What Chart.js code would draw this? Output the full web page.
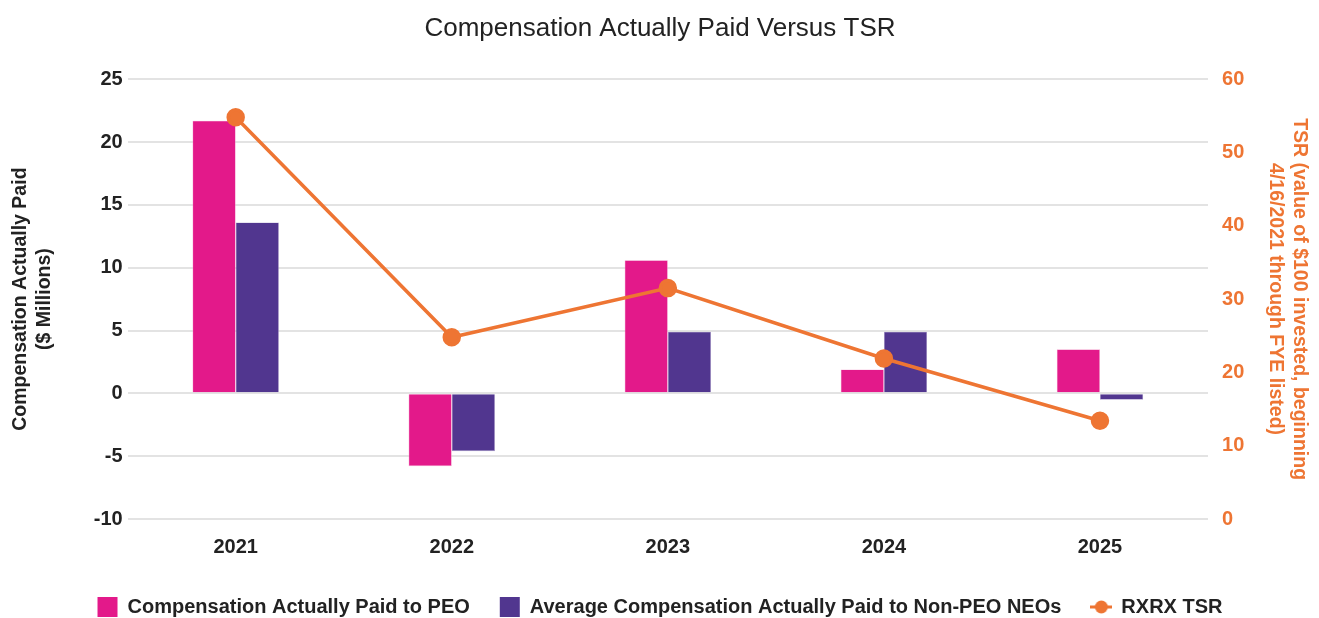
<!DOCTYPE html>
<html>
<head>
<meta charset="utf-8">
<script src="https://cdn.jsdelivr.net/npm/chart.js@4/dist/chart.umd.min.js"></script>
<style>
  html, body { margin: 0; padding: 0; background: #fff; }
  #wrap { width: 1319px; height: 618px; }
</style>
</head>
<body>
<div id="wrap"><canvas id="cap"></canvas></div>
<script>
// data
const years = ["2021", "2022", "2023", "2024", "2025"];
const peoCap = [21.7, -5.8, 10.6, 1.9, 3.5];
const neoCap = [13.6, -4.6, 4.9, 4.9, -0.5];
const tsr = [54.8, 24.8, 31.5, 21.9, 13.4];

const pink = "#E3198A";
const purple = "#51368F";
const orange = "#EE7533";

// legend marker for the line series: short line with a dot
function lineMarker() {
    const c = document.createElement("canvas");
    c.width = 22; c.height = 14;
    const g = c.getContext("2d");
    g.strokeStyle = orange; g.lineWidth = 3;
    g.beginPath(); g.moveTo(0, 7); g.lineTo(22, 7); g.stroke();
    g.fillStyle = orange;
    g.beginPath(); g.arc(11, 7, 6.5, 0, Math.PI * 2); g.fill();
    return c;
}

Chart.defaults.font.family = "'Liberation Sans', Arial, sans-serif";

const ctx = document.getElementById("cap");
const capChart = new Chart(ctx, {
    data: {
        labels: years,
        datasets: [
            {
                type: "line",
                label: "RXRX TSR",
                data: tsr,
                yAxisID: "y1",
                borderColor: orange,
                backgroundColor: orange,
                borderWidth: 3.5,
                pointRadius: 7.5,
                pointHoverRadius: 7.5,
                tension: 0,
                order: 0,
            },
            {
                type: "bar",
                label: "Compensation Actually Paid to PEO",
                data: peoCap,
                yAxisID: "y",
                backgroundColor: pink,
                borderColor: "#F2A3CE",
                borderWidth: 0.6,
                categoryPercentage: 0.4,
                barPercentage: 1,
                order: 1,
            },
            {
                type: "bar",
                label: "Average Compensation Actually Paid to Non-PEO NEOs",
                data: neoCap,
                yAxisID: "y",
                backgroundColor: purple,
                borderColor: "#A99BC8",
                borderWidth: 0.6,
                categoryPercentage: 0.4,
                barPercentage: 1,
                order: 2,
            },
        ],
    },
    options: {
        responsive: true,
        maintainAspectRatio: false,
        animation: false,
        layout: { padding: { left: 8, right: 7, top: 0, bottom: -9 } },
        plugins: {
            title: {
                display: true,
                text: "Compensation Actually Paid Versus TSR",
                color: "#222",
                font: { size: 26, weight: "normal" },
                padding: { top: 13, bottom: 35 },
            },
            tooltip: { enabled: false },
            legend: {
                position: "bottom",
                labels: {
                    color: "#222",
                    font: { size: 20, weight: "bold" },
                    usePointStyle: true,
                    padding: 30,
                    generateLabels: function (chart) {
                        const order = [1, 2, 0];
                        return order.map(function (i) {
                            const ds = chart.data.datasets[i];
                            return {
                                text: ds.label,
                                datasetIndex: i,
                                fillStyle: ds.backgroundColor,
                                strokeStyle: ds.backgroundColor,
                                lineWidth: 0,
                                pointStyle: ds.type === "line" ? lineMarker() : "rect",
                                fontColor: "#222",
                                hidden: false,
                            };
                        });
                    },
                },
            },
        },
        scales: {
            x: {
                grid: { display: false },
                border: { display: false },
                ticks: { color: "#222", font: { size: 20, weight: "bold", lineHeight: 0.5 }, padding: 15 },
            },
            y: {
                position: "left",
                min: -10,
                max: 25,
                ticks: { stepSize: 5, color: "#222", font: { size: 20, weight: "bold" }, padding: 5 },
                grid: { color: "#E3E3E3", lineWidth: 2, drawTicks: false },
                border: { display: false },
                title: {
                    display: true,
                    text: ["Compensation Actually Paid", "($ Millions)"],
                    color: "#222",
                    font: { size: 19.5, weight: "bold", lineHeight: 1.25 },
                    padding: { top: 0, bottom: 32 },
                },
            },
            y1: {
                position: "right",
                min: 0,
                max: 60,
                ticks: { stepSize: 10, color: orange, font: { size: 20, weight: "bold" }, padding: 6 },
                grid: { display: false },
                border: { display: false },
                title: {
                    display: true,
                    text: ["TSR (value of $100 invested, beginning", "4/16/2021 through FYE listed)"],
                    color: orange,
                    font: { size: 19.5, weight: "bold", lineHeight: 1.25 },
                    padding: { top: 0, bottom: 13 },
                },
            },
        },
    },
});
</script>
</body>
</html>
